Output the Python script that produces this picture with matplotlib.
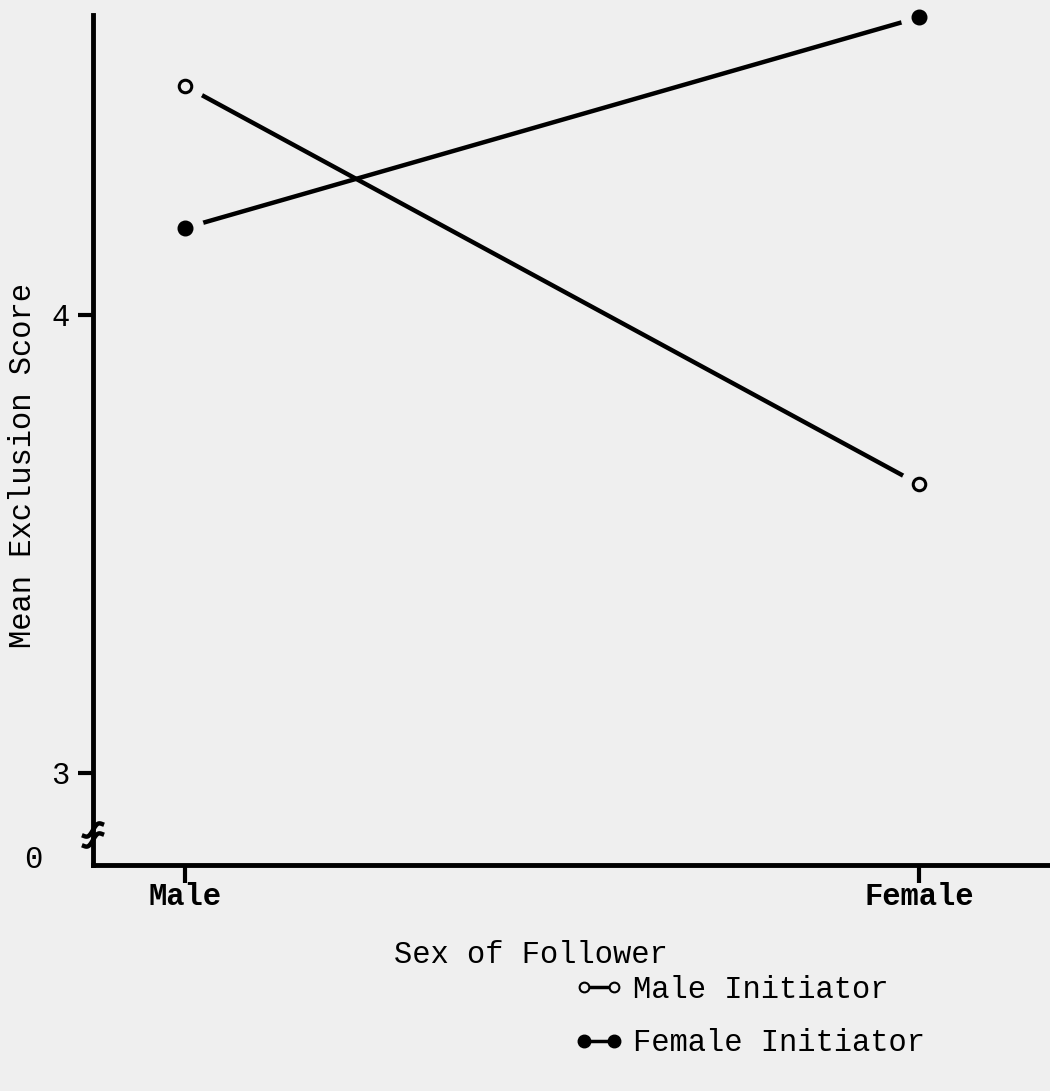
import numpy as np
import matplotlib
matplotlib.use("Agg")
from matplotlib import pyplot as plt
from matplotlib.lines import Line2D

# data
followers = ["Male", "Female"]
male_init = [4.50, 3.63]     # open circles
female_init = [4.19, 4.65]   # filled circles
yticks = [3, 4]

plt.rcParams['font.family'] = ['Liberation Mono', 'DejaVu Sans Mono']
bg = "#efefef"
fs = 22

fig = plt.figure(figsize=(10.5, 10.91), dpi=100, facecolor=bg)
ax = fig.add_axes([93/1050, 226/1091, 957/1050, 850/1091])
ax.set_facecolor(bg)

xs = np.arange(len(followers))

# lines first, then a background-coloured halo so the line stops short of the marker
ax.plot(xs, male_init, color="black", lw=3.2, solid_capstyle="round", zorder=2)
ax.plot(xs, female_init, color="black", lw=3.2, solid_capstyle="round", zorder=2)
ax.plot(xs, male_init, ls="none", marker="o", ms=26, mfc=bg, mec=bg, zorder=3, clip_on=False)
ax.plot(xs, female_init, ls="none", marker="o", ms=26, mfc=bg, mec=bg, zorder=3, clip_on=False)
ax.plot(xs, male_init, ls="none", marker="o", ms=9, mfc=bg, mec="black", mew=2.2,
        zorder=4, clip_on=False)
ax.plot(xs, female_init, ls="none", marker="o", ms=10.5, mfc="black", mec="black",
        zorder=4, clip_on=False)

ax.set_xlim(-0.1253, 1.178)
ax.set_ylim(2.799, 4.655)

for s in ["top", "right"]:
    ax.spines[s].set_visible(False)
for s in ["left", "bottom"]:
    ax.spines[s].set_linewidth(3.5)
    ax.spines[s].set_capstyle("projecting")

ax.set_yticks(yticks)
ax.set_yticklabels([str(t) for t in yticks], fontsize=fs)
ax.tick_params(axis="y", direction="out", length=11, width=3, pad=6)
ax.set_xticks(xs)
ax.set_xticklabels(followers, fontsize=fs, fontweight="bold")
ax.tick_params(axis="x", direction="out", length=13, width=3, pad=-1)

ax.set_ylabel("Mean Exclusion Score", fontsize=fs)
ax.yaxis.set_label_coords(-70/957, 400/850)
ax.set_xlabel("Sex of Follower", fontsize=fs)
ax.xaxis.set_label_coords(438/957, -90/850)
ax.xaxis.label.set_va("center")
ax.yaxis.label.set_va("center")

# axis break and the "0" at the bottom
ax.text(-60/957, 5/850, "0", transform=ax.transAxes, fontsize=fs,
        ha="center", va="center")
t = np.linspace(-1, 1, 30)
for dy in (-5, 5):
    bx = t * 9
    by = 30 + dy + t * 6 + 3 * np.sin(t * np.pi)
    ax.plot(bx / 957, by / 850, color="black", lw=3.2, transform=ax.transAxes,
            clip_on=False, zorder=5)

# legend
handles = [
    Line2D([], [], color="black", lw=2.5, marker="o", ms=7, mfc=bg, mec="black", mew=1.5),
    Line2D([], [], color="black", lw=2.5, marker="o", ms=9, mfc="black", mec="black"),
]
fig.legend(handles, ["Male Initiator", "Female Initiator"], loc="upper left",
           bbox_to_anchor=(547/1050, 1 - 947/1091), frameon=False, numpoints=2,
           handlelength=1.6, handletextpad=0.33, labelspacing=0.78, fontsize=fs)

fig.savefig("out.png", dpi=100, facecolor=bg)
